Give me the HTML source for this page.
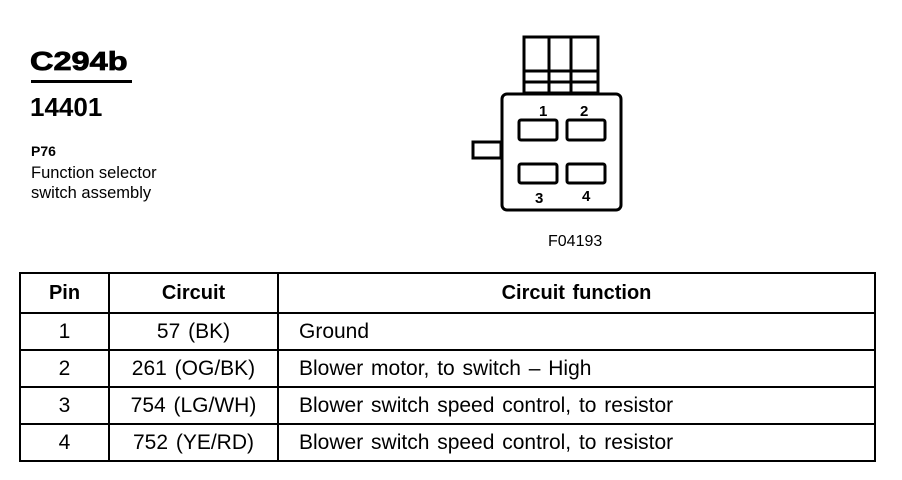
<!DOCTYPE html>
<html><head><meta charset="utf-8"><style>
body{margin:0;width:902px;height:480px;background:#fff;position:relative;overflow:hidden;font-family:"Liberation Sans",Arial,sans-serif;color:#000}
.a{position:absolute;white-space:nowrap}
table{position:absolute;left:19px;top:272px;width:855px;table-layout:fixed;border-collapse:collapse;font-size:21px;word-spacing:2px}
td{border:2px solid #000;padding:0;height:35px}
th{border:2px solid #000;height:36px;font-size:20px}
</style></head><body>
<div class="a" style="left:30px;top:46px;font-size:26px;font-weight:bold;line-height:30px;transform:scaleX(1.25);transform-origin:0 0;-webkit-text-stroke:0.8px #000">C294b</div>
<div style="position:absolute;left:31px;top:80px;width:101px;height:3px;background:#000"></div>
<div class="a" style="left:30px;top:92px;font-size:26px;font-weight:bold;line-height:30px">14401</div>
<div class="a" style="left:31px;top:143px;font-size:14px;font-weight:bold;line-height:17px">P76</div>
<div class="a" style="left:31px;top:163px;font-size:16.5px;line-height:20px">Function selector<br>switch assembly</div>
<svg style="position:absolute;left:0;top:0" width="902" height="260">
<g fill="none" stroke="#000" stroke-width="3">
<rect x="524" y="37" width="74" height="56"/>
<line x1="549" y1="37" x2="549" y2="93"/><line x1="571" y1="37" x2="571" y2="93"/>
<line x1="524" y1="71" x2="598" y2="71"/><line x1="524" y1="82" x2="598" y2="82"/>
<rect x="473" y="142" width="28" height="16"/>
<rect x="502" y="94" width="119" height="116" rx="5" fill="#fff"/>
<rect x="519" y="120" width="38" height="20" rx="2"/>
<rect x="567" y="120" width="38" height="20" rx="2"/>
<rect x="519" y="164" width="38" height="19" rx="2"/>
<rect x="567" y="164" width="38" height="19" rx="2"/>
</g>
<g font-family="Liberation Sans" font-weight="bold" font-size="15">
<text x="539" y="116">1</text><text x="580" y="116">2</text>
<text x="535" y="203">3</text><text x="582" y="201">4</text>
</g>
<text x="548" y="246" font-family="Liberation Sans" font-size="16">F04193</text>
</svg>
<table>
<colgroup><col style="width:89px"><col style="width:169px"><col style="width:597px"></colgroup>
<tr><th>Pin</th><th>Circuit</th><th>Circuit function</th></tr>
<tr><td style="text-align:center">1</td><td style="text-align:center">57 (BK)</td><td style="padding-left:20px">Ground</td></tr>
<tr><td style="text-align:center">2</td><td style="text-align:center">261 (OG/BK)</td><td style="padding-left:20px">Blower motor, to switch – High</td></tr>
<tr><td style="text-align:center">3</td><td style="text-align:center">754 (LG/WH)</td><td style="padding-left:20px">Blower switch speed control, to resistor</td></tr>
<tr><td style="text-align:center">4</td><td style="text-align:center">752 (YE/RD)</td><td style="padding-left:20px">Blower switch speed control, to resistor</td></tr>
</table>
</body></html>
